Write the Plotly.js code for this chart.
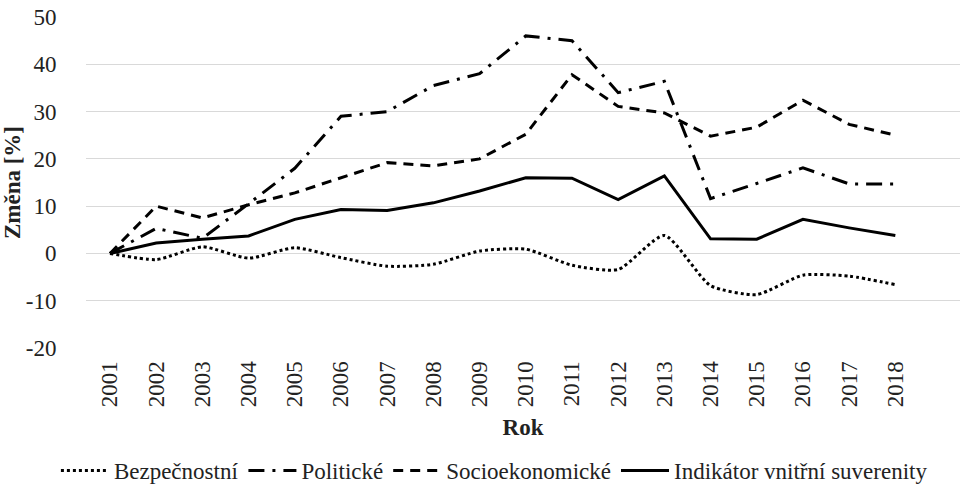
<!DOCTYPE html>
<html>
<head>
<meta charset="utf-8">
<script src="https://cdn.plot.ly/plotly-3.0.1.min.js"></script>
<style>html,body{margin:0;padding:0;background:#fff;}#chart{width:960px;height:492px;}</style>
</head>
<body>
<div id="chart"></div>
<script>
const years = ["2001","2002","2003","2004","2005","2006","2007","2008","2009","2010","2011","2012","2013","2014","2015","2016","2017","2018"];
const bezpecnostni = [0, -1.3, 1.4, -1.0, 1.2, -0.9, -2.7, -2.3, 0.5, 0.9, -2.5, -3.4, 3.8, -6.8, -8.7, -4.6, -4.8, -6.6];
const politicke = [0, 5.3, 3.2, 10.5, 18, 29, 30, 35.5, 38, 46, 45, 34, 36.4, 11.6, 14.8, 18.1, 14.7, 14.7];
const socioekonomicke = [0, 10, 7.5, 10.3, 12.8, 16, 19.2, 18.5, 20, 25.2, 37.8, 31.1, 29.7, 24.8, 26.7, 32.4, 27.3, 25];
const indikator = [0, 2.2, 3.0, 3.7, 7.2, 9.3, 9.1, 10.7, 13.2, 16.0, 15.9, 11.4, 16.4, 3.1, 3.0, 7.2, 5.4, 3.8];
const names = ["Bezpečnostní", "Politické", "Socioekonomické", "Indikátor vnitřní suverenity"];

const font = "'Liberation Serif', 'Times New Roman', serif";
const traces = [
  {x: years, y: bezpecnostni, name: names[0], mode: "lines",
   line: {color: "#000", width: 3, dash: "dot", shape: "spline", smoothing: 0.6}},
  {x: years, y: politicke, name: names[1], mode: "lines",
   line: {color: "#000", width: 3, dash: "16px,8px,3px,8px"}},
  {x: years, y: socioekonomicke, name: names[2], mode: "lines",
   line: {color: "#000", width: 3, dash: "10px,7px"}},
  {x: years, y: indikator, name: names[3], mode: "lines",
   line: {color: "#000", width: 3}}
];

const layout = {
  width: 960, height: 492,
  margin: {l: 86, r: 0, t: 17, b: 144},
  paper_bgcolor: "#fff", plot_bgcolor: "#fff",
  font: {family: font, size: 22, color: "#222"},
  showlegend: true,
  legend: {orientation: "h", xref: "container", yref: "container", x: 0.515, xanchor: "center", y: 0, yanchor: "bottom",
           font: {family: font, size: 23, color: "#222"}, itemwidth: 48, tracegroupgap: 0, bgcolor: "rgba(0,0,0,0)"},
  xaxis: {
    type: "category", range: [-0.52, 18.4], showgrid: false, zeroline: false, showline: false,
    tickangle: -90, ticks: "outside", ticklen: 3, tickcolor: "rgba(0,0,0,0)",
    tickfont: {family: font, size: 23, color: "#222"},
    title: {text: "<b>Rok</b>", font: {family: font, size: 23, color: "#222"}, standoff: 12}
  },
  yaxis: {
    range: [-20, 50], tickvals: [-20, -10, 0, 10, 20, 30, 40, 50], ticktext: ["-20","-10","0","10","20","30","40","50"],
    showgrid: true, gridcolor: "#d9d9d9", gridwidth: 1, zeroline: false, showline: false,
    ticks: "outside", ticklen: 24, tickcolor: "rgba(0,0,0,0)",
    tickfont: {family: font, size: 23, color: "#222"},
    title: {text: "<b>Změna [%]</b>", font: {family: font, size: 23, color: "#222"}, standoff: 6}
  }
};
Plotly.newPlot("chart", traces, layout, {displayModeBar: false, staticPlot: true});
</script>
</body>
</html>
